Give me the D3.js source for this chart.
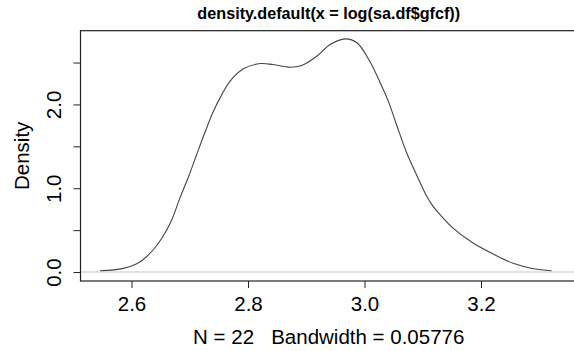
<!DOCTYPE html>
<html lang="en">
<head>
  <meta charset="utf-8">
  <title>density.default(x = log(sa.df$gfcf))</title>
  <script src="https://d3js.org/d3.v7.min.js"></script>
  <style>
    body {
      margin: 0;
      padding: 0;
      background: #fff;
    }
    svg {
      display: block;
      font-family: "Liberation Sans", Arial, sans-serif;
    }
    .axis-text {
      font-size: 20.5px;
      fill: #000;
    }
  </style>
</head>
<body>
  <div id="chart"></div>
  <script>
    // Kernel density estimate (log gfcf vs density)
    const densityX = [2.546, 2.586, 2.615, 2.637, 2.652, 2.669, 2.683, 2.698, 2.712, 2.726,
                      2.740, 2.755, 2.769, 2.792, 2.821, 2.843, 2.872, 2.892, 2.918, 2.941,
                      2.967, 2.987, 3.009, 3.027, 3.041, 3.055, 3.072, 3.090, 3.107, 3.118,
                      3.130, 3.152, 3.187, 3.221, 3.255, 3.290, 3.321];
    const densityY = [0.016, 0.044, 0.123, 0.263, 0.403, 0.622, 0.882, 1.140, 1.405, 1.665,
                      1.910, 2.117, 2.276, 2.425, 2.488, 2.476, 2.444, 2.464, 2.575, 2.715,
                      2.783, 2.736, 2.516, 2.257, 2.037, 1.758, 1.430, 1.150, 0.901, 0.781,
                      0.682, 0.523, 0.343, 0.215, 0.104, 0.039, 0.016];

    const xTicks = [2.6, 2.8, 3.0, 3.2];
    const yTicks = [0, 0.5, 1.0, 1.5, 2.0, 2.5];
    const yTickLabels = [0, 1.0, 2.0];

    const titleText = "density.default(x = log(sa.df$gfcf))";
    const xLabelText = "N = 22   Bandwidth = 0.05776";
    const yLabelText = "Density";

    const width = 574;
    const height = 351;
    // plot region (right edge falls just outside the picture)
    const plot = { left: 80.5, right: 577, top: 30.7, bottom: 281 };

    const svg = d3.select("#chart")
      .append("svg")
      .attr("width", width)
      .attr("height", height);

    const xScale = d3.scaleLinear()
      .domain([2.5124, 3.3648])
      .range([plot.left, plot.right]);

    const yScale = d3.scaleLinear()
      .domain([-0.107, 2.88])
      .range([plot.bottom, plot.top]);

    // zero reference line
    svg.append("line")
      .attr("x1", plot.left)
      .attr("x2", plot.right)
      .attr("y1", yScale(0))
      .attr("y2", yScale(0))
      .attr("stroke", "#d9d9d9")
      .attr("stroke-width", 1.6);

    // density curve
    const points = densityX.map((x, i) => [x, densityY[i]]);
    const line = d3.line()
      .x(d => xScale(d[0]))
      .y(d => yScale(d[1]))
      .curve(d3.curveCatmullRom.alpha(0.5));

    svg.append("path")
      .datum(points)
      .attr("fill", "none")
      .attr("stroke", "#444")
      .attr("stroke-width", 1.1)
      .attr("d", line);

    // plot box
    svg.append("rect")
      .attr("x", plot.left)
      .attr("y", plot.top)
      .attr("width", plot.right - plot.left)
      .attr("height", plot.bottom - plot.top)
      .attr("fill", "none")
      .attr("stroke", "#222")
      .attr("stroke-width", 1.2);

    // x axis
    const xAxis = d3.axisBottom(xScale)
      .tickValues(xTicks)
      .tickSize(7)
      .tickPadding(4)
      .tickFormat(d3.format(".1f"));

    const gx = svg.append("g")
      .attr("transform", `translate(0,${plot.bottom})`)
      .call(xAxis);
    gx.select(".domain").remove();
    gx.selectAll(".tick line").attr("stroke", "#222");
    gx.selectAll(".tick text")
      .attr("class", "axis-text")
      .attr("font-family", null)
      .attr("font-size", null)
      .attr("dy", null)
      .attr("y", 29.7);

    // y axis (labels vertical, only every other tick labelled)
    const yAxis = d3.axisLeft(yScale)
      .tickValues(yTicks)
      .tickSize(7)
      .tickFormat(d => yTickLabels.includes(d) ? d3.format(".1f")(d) : "");

    const gy = svg.append("g")
      .attr("transform", `translate(${plot.left},0)`)
      .call(yAxis);
    gy.select(".domain").remove();
    gy.selectAll(".tick line").attr("stroke", "#222");
    gy.selectAll(".tick text")
      .attr("class", "axis-text")
      .attr("font-family", null)
      .attr("font-size", null)
      .attr("x", null)
      .attr("dy", null)
      .attr("text-anchor", "middle")
      .attr("transform", "translate(-19.5,0) rotate(-90)");

    // title
    svg.append("text")
      .attr("x", (plot.left + plot.right) / 2)
      .attr("y", 18.8)
      .attr("text-anchor", "middle")
      .attr("font-size", "16.2px")
      .attr("font-weight", "bold")
      .text(titleText);

    // x label
    svg.append("text")
      .attr("class", "axis-text")
      .attr("x", (plot.left + plot.right) / 2)
      .attr("y", 344)
      .attr("text-anchor", "middle")
      .attr("xml:space", "preserve")
      .style("white-space", "pre")
      .text(xLabelText);

    // y label
    svg.append("text")
      .attr("class", "axis-text")
      .attr("text-anchor", "middle")
      .attr("transform", `translate(28.5,${(plot.top + plot.bottom) / 2}) rotate(-90)`)
      .text(yLabelText);
  </script>
</body>
</html>
